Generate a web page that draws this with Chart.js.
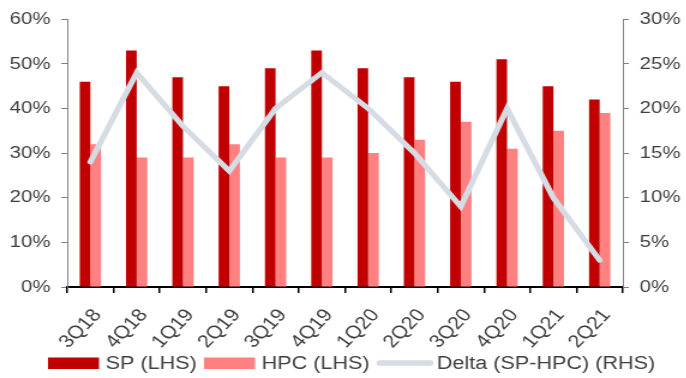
<!DOCTYPE html>
<html>
<head>
<meta charset="utf-8">
<script src="https://cdn.jsdelivr.net/npm/chart.js@4/dist/chart.umd.min.js"></script>
<style>
  html, body { margin: 0; padding: 0; background: #fff; overflow: hidden; }
  #wrap {
    width: 572px; height: 378px;
    transform: scaleX(1.2); transform-origin: 0 0;
  }
</style>
</head>
<body>
<div id="wrap"><canvas id="chart"></canvas></div>
<script>
// Quarterly shares (%) and the gap between them
const quarters = ['3Q18','4Q18','1Q19','2Q19','3Q19','4Q19','1Q20','2Q20','3Q20','4Q20','1Q21','2Q21'];
const spValues = [46, 53, 47, 45, 49, 53, 49, 47, 46, 51, 45, 42];
const hpcValues = [32, 29, 29, 32, 29, 29, 30, 33, 37, 31, 35, 39];
const deltaValues = [14, 24, 18, 13, 20, 24, 20, 15, 9, 20, 10, 3];
const lhsTicks = [0, 10, 20, 30, 40, 50, 60];
const rhsTicks = [0, 5, 10, 15, 20, 25, 30];

const TEXT = '#404040';
const AXIS = '#808080';
const FONT = 'Liberation Sans, Arial, sans-serif';

// Legend row under the axis: filled keys for bars, a short rounded stroke for the line
const keyLegend = {
  id: 'keyLegend',
  afterDraw(chart) {
    const ctx = chart.ctx;
    const y = 363.5;
    let x = 40;
    ctx.save();
    ctx.font = '18px ' + FONT;
    ctx.textBaseline = 'middle';
    ctx.textAlign = 'left';
    chart.data.datasets.forEach((ds) => {
      if (ds.type === 'line') {
        ctx.strokeStyle = ds.borderColor;
        ctx.lineWidth = 5.5;
        ctx.lineCap = 'round';
        ctx.beginPath();
        ctx.moveTo(x + 2.5, y - 0.5);
        ctx.lineTo(x + 44.5, y - 0.5);
        ctx.stroke();
        x += 50;
      } else {
        ctx.fillStyle = ds.backgroundColor;
        ctx.fillRect(x, y - 6, 42.5, 11.5);
        x += 48;
      }
      ctx.fillStyle = TEXT;
      ctx.fillText(ds.label, x, y + 1);
      x += ctx.measureText(ds.label).width + 6;
    });
    ctx.restore();
  }
};

new Chart(document.getElementById('chart'), {
  type: 'bar',
  data: {
    labels: quarters,
    datasets: [
      { label: 'SP (LHS)', data: spValues, backgroundColor: '#c00000', yAxisID: 'y', order: 1,
        categoryPercentage: 0.46, barPercentage: 1.0 },
      { label: 'HPC (LHS)', data: hpcValues, backgroundColor: '#ff8080', yAxisID: 'y', order: 1,
        categoryPercentage: 0.46, barPercentage: 1.0 },
      { type: 'line', label: 'Delta (SP-HPC) (RHS)', data: deltaValues, yAxisID: 'y1', order: 0,
        borderColor: '#d6dce4', backgroundColor: '#d6dce4', borderWidth: 5,
        borderCapStyle: 'round', borderJoinStyle: 'miter', pointRadius: 0, tension: 0 }
    ]
  },
  plugins: [keyLegend],
  options: {
    responsive: true,
    maintainAspectRatio: false,
    animation: false,
    layout: { padding: { top: 17, left: 0, right: 0, bottom: 26 } },
    plugins: {
      tooltip: { enabled: false },
      legend: { display: false }
    },
    scales: {
      x: {
        offset: true,
        grid: { offset: true, drawOnChartArea: false, drawTicks: true, tickLength: 6, color: '#000', lineWidth: 1.5 },
        border: { display: true, color: '#000', width: 2 },
        ticks: { color: TEXT, font: { family: FONT, size: 18 }, minRotation: 50, maxRotation: 50,
                 padding: 12, labelOffset: 6, autoSkip: false },
        afterFit: (s) => { s.height = 65; }
      },
      y: {
        position: 'left',
        min: 0, max: 60,
        afterBuildTicks: (s) => { s.ticks = lhsTicks.map(v => ({ value: v })); },
        grid: { drawOnChartArea: false, drawTicks: true, tickLength: 5, color: AXIS },
        border: { display: true, color: AXIS, width: 1 },
        ticks: { color: TEXT, font: { family: FONT, size: 17 }, padding: 9, callback: v => v + '%' },
        afterFit: (s) => { s.width = 56; }
      },
      y1: {
        position: 'right',
        min: 0, max: 30,
        afterBuildTicks: (s) => { s.ticks = rhsTicks.map(v => ({ value: v })); },
        grid: { drawOnChartArea: false, drawTicks: true, tickLength: 5, color: AXIS },
        border: { display: true, color: AXIS, width: 1 },
        ticks: { color: TEXT, font: { family: FONT, size: 17 }, padding: 9, callback: v => v + '%' },
        afterFit: (s) => { s.width = 53; }
      }
    }
  }
});
</script>
</body>
</html>
